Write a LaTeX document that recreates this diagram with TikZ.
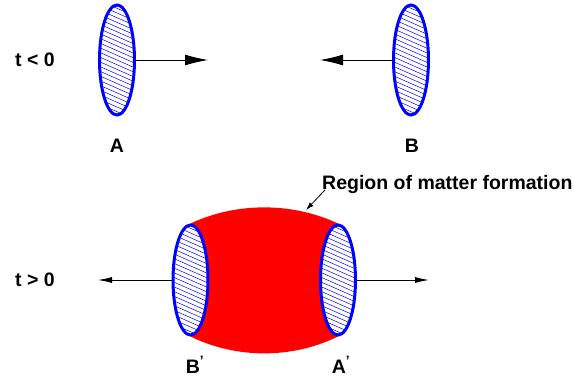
\documentclass[tikz,border=0pt]{standalone}
\usepackage{fontspec}
\setmainfont{Liberation Sans}
\usetikzlibrary{arrows.meta,positioning,shapes.geometric,backgrounds}

\begin{document}
\begin{tikzpicture}[x=1pt, y=1pt]
\tikzstyle{disc} = [ellipse, draw=blue, line width=3pt, fill=white, inner sep=0pt, minimum width=35pt, minimum height=110pt,
  path picture={\foreach \k in {-16,...,16} \draw[blue, line width=0.5pt, shift={(path picture bounding box.center)}] (-25,4.7*\k+11) -- ++(50,-22);}]
\tikzstyle{lbl} = [font=\bfseries\fontsize{19.5}{22}\selectfont, inner sep=0pt]
\tikzstyle{bigarrow} = [-{Latex[length=23pt, width=11pt]}, line width=0.9pt]
\tikzstyle{arrow} = [-{Latex[length=14pt, width=6pt]}, line width=0.9pt]

\useasboundingbox (0,0) rectangle (574,381);

% t < 0
\node[disc] (A) at (117,321) {};
\node[disc] (B) at (411,321) {};
\node[lbl] (tneg) at (35,321) {t < 0};
\node[lbl] (labA) at (117,235) {A};
\node[lbl] (labB) at (412,235) {B};
\coordinate (Ahead) at (208,321);
\coordinate (Bhead) at (320,321);
\draw[bigarrow] (A.east) -- (Ahead);
\draw[bigarrow] (B.west) -- (Bhead);

% t > 0
\node[disc] (Bp) at (190.5,101) {};
\node[disc] (Ap) at (338,101) {};
\begin{scope}[on background layer]
\fill[red] (Bp.north) .. controls +(46,21.5) and +(-46,21.5) .. (Ap.north) -- (Ap.south)
  .. controls +(-46,-22.5) and +(46,-22.5) .. (Bp.south) -- cycle;
\end{scope}
\node[lbl] (tpos) at (35,101) {t > 0};
\node[lbl] (labBp) at (195,16) {B\textsuperscript{'}};
\node[lbl] (labAp) at (341,16) {A\textsuperscript{'}};
\coordinate (Bphead) at (98,101);
\coordinate (Aphead) at (429,101);
\draw[arrow] (Bp.west) -- (Bphead);
\draw[arrow] (Ap.east) -- (Aphead);

\node[lbl, anchor=base west] (region) at (322,191) {Region of matter formation};
\coordinate (rtip) at (306,171);
\draw[-{Latex[length=8pt, width=5pt]}, line width=0.8pt] ([xshift=3pt]region.base west) -- (rtip);
\end{tikzpicture}
\end{document}
